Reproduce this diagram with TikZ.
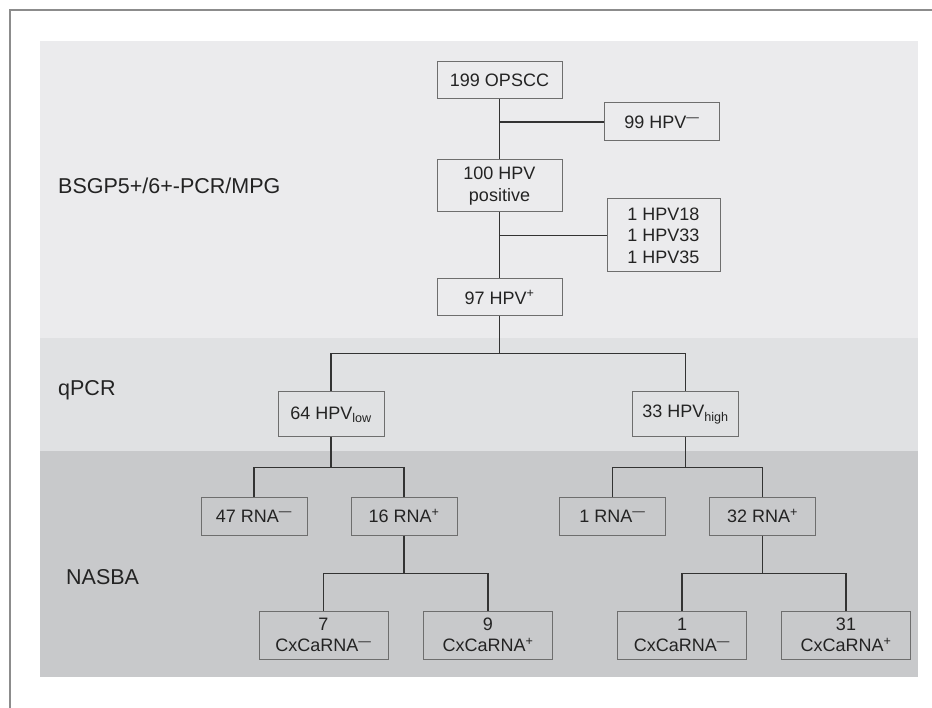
\documentclass[tikz,border=0pt]{standalone}
\usepackage{fontspec}
\setmainfont{Liberation Sans}
\usepackage{xcolor}
\definecolor{cPanelTop}{HTML}{EBEBED}
\definecolor{cPanelMid}{HTML}{E0E1E3}
\definecolor{cPanelLow}{HTML}{C8C9CB}
\definecolor{cBox}{HTML}{6E6E6E}
\definecolor{cLine}{HTML}{333333}
\definecolor{cFrame}{HTML}{8C8C8C}
\definecolor{cText}{HTML}{232323}
\usepackage{tikz}
\usetikzlibrary{calc}
\tikzset{
  node-box/.style={draw=cBox,line width=1pt,inner sep=0pt,
    minimum width=106pt,minimum height=38pt,align=center,text=cText,
    font=\fontsize{18}{21.6}\selectfont},
  node-box-wide/.style={node-box,minimum width=125pt,minimum height=37pt},
  node-box-cx/.style={node-box,minimum width=129pt,minimum height=48pt},
  stage-label/.style={anchor=west,inner sep=0pt,text=cText,
    font=\fontsize{21.5}{25}\selectfont},
  link/.style={draw=cLine,line width=1.2pt},
}
\newcommand{\supneg}{\textsuperscript{\textemdash}}
\newcommand{\suppos}{\textsuperscript{+}}

\begin{document}
\begin{tikzpicture}[x=1pt,y=-1pt]
  \useasboundingbox (0,0) rectangle (932,708);
  % panels + frame
  \fill[cPanelTop] (40,41) rectangle (918,338);
  \fill[cPanelMid] (40,338) rectangle (918,451);
  \fill[cPanelLow] (40,451) rectangle (918,677);
  \draw[cFrame,line width=2pt] (9.5,708) -- (9.5,10) -- (932,10);
  \node[stage-label] (lbl-pcr) at (58,186) {BSGP5+/6+-PCR/MPG};
  \node[stage-label] (lbl-qpcr) at (58,390) {qPCR};
  \node[stage-label] (lbl-nasba) at (66,577) {NASBA};
  % genotyping
  \node[node-box-wide] (opscc) at (499.5,80.5) {199 OPSCC};
  \node[node-box,minimum width=115pt] (hpv-neg) at (662,122) {99 HPV\supneg};
  \node[node-box-wide,minimum height=52pt] (hpv-pos) at (499.5,186) {100 HPV\\positive};
  \node[node-box,minimum width=113pt,minimum height=73pt] (hpv-other) at (663.5,235.5)
    {1 HPV18\\1 HPV33\\1 HPV35};
  \node[node-box-wide] (hpv97) at (499.5,297.5) {97 HPV\suppos};
  % viral load
  \node[node-box,minimum height=45pt] (load-low) at (331,414.5) {64 HPV\textsubscript{low}};
  \node[node-box,minimum height=45pt] (load-high) at (685.5,414.5) {33 HPV\textsubscript{high}};
  % mRNA
  \node[node-box] (rna-neg1) at (254,516) {47 RNA\supneg};
  \node[node-box] (rna-pos1) at (404,516) {16 RNA\suppos};
  \node[node-box] (rna-neg2) at (612.5,516) {1 RNA\supneg};
  \node[node-box] (rna-pos2) at (762.5,516) {32 RNA\suppos};
  \node[node-box-cx] (cx-neg1) at (323.5,635) {7\\CxCaRNA\supneg};
  \node[node-box-cx] (cx-pos1) at (488,635) {9\\CxCaRNA\suppos};
  \node[node-box-cx] (cx-neg2) at (682,635) {1\\CxCaRNA\supneg};
  \node[node-box-cx] (cx-pos2) at (846,635) {31\\CxCaRNA\suppos};
  % connectors
  \draw[link] (opscc) -- (hpv-pos);
  \draw[link] (opscc.south |- hpv-neg.west) -- (hpv-neg);
  \draw[link] (hpv-pos) -- (hpv97);
  \draw[link] (hpv-pos.south |- hpv-other.west) -- (hpv-other);
  \draw[link] (hpv97.south) -- ++(0,37) coordinate (split-qpcr) -| (load-low.north);
  \draw[link] (split-qpcr) -| (load-high.north);
  \draw[link] (load-low.south) -- ++(0,30) coordinate (split-low) -| (rna-neg1.north);
  \draw[link] (split-low) -| (rna-pos1.north);
  \draw[link] (load-high.south) -- ++(0,30) coordinate (split-high) -| (rna-neg2.north);
  \draw[link] (split-high) -| (rna-pos2.north);
  \draw[link] (rna-pos1.south) -- ++(0,38) coordinate (split-cx1) -| (cx-neg1.north);
  \draw[link] (split-cx1) -| (cx-pos1.north);
  \draw[link] (rna-pos2.south) -- ++(0,38) coordinate (split-cx2) -| (cx-neg2.north);
  \draw[link] (split-cx2) -| (cx-pos2.north);
\end{tikzpicture}
\end{document}
